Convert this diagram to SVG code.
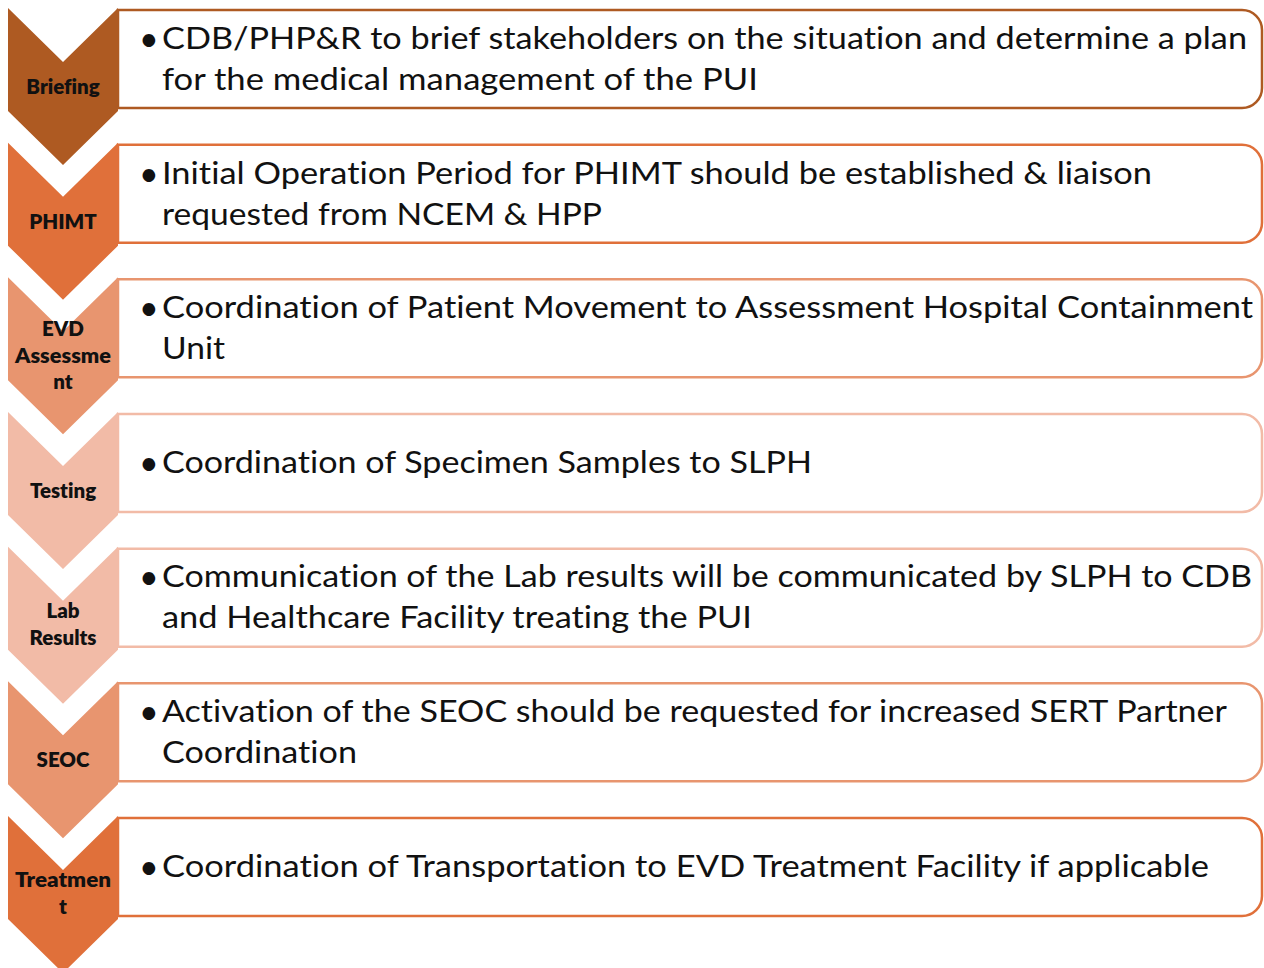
<svg xmlns="http://www.w3.org/2000/svg" width="1264" height="968" viewBox="0 0 1264 968">
  <style>
    .lbl { font-family: Lato, "Open Sans", "Liberation Sans", sans-serif; font-weight: 800; font-size: 20.5px; fill: #111; text-anchor: middle; font-variant-ligatures: none; }
    .txt { font-family: Lato, "Open Sans", "Liberation Sans", sans-serif; font-size: 31.5px; fill: #111; font-variant-ligatures: none; }
    .dot { font-family: Lato, "Open Sans", sans-serif; font-size: 34px; fill: #111; }
    .box { fill: #fff; stroke-width: 2.5; }
    .c1 { fill: #AE5A22; } .s1 { stroke: #AE5A22; }
    .c2 { fill: #E0703A; } .s2 { stroke: #E0703A; }
    .c3 { fill: #E8956F; } .s3 { stroke: #E8956F; }
    .c4 { fill: #F2BBA7; } .s4 { stroke: #F2BBA7; }
  </style>
  <defs>
    <!-- down-pointing chevron, origin at top-left corner -->
    <polygon id="chev" points="8,0 63,54 118,0 118,103 63,157 8,103"/>
    <!-- text panel: square left side, rounded right corners -->
    <path id="panel" d="M118,2 H1242 A20,20 0 0 1 1262,22 V80 A20,20 0 0 1 1242,100 H118 Z"/>
  </defs>

  <!-- Briefing -->
  <g id="step-briefing">
    <use href="#panel" class="box s1" y="8"/>
    <use href="#chev" class="c1" y="8"/>
    <text class="lbl" x="63" y="94">Briefing</text>
    <text class="dot" x="139" y="50.5">•</text>
    <text class="txt" x="162" y="49" textLength="1085" lengthAdjust="spacingAndGlyphs">CDB/PHP&amp;R to brief stakeholders on the situation and determine a plan</text>
    <text class="txt" x="162" y="90" textLength="596" lengthAdjust="spacingAndGlyphs">for the medical management of the PUI</text>
  </g>

  <!-- PHIMT -->
  <g id="step-phimt">
    <use href="#panel" class="box s2" y="142.7"/>
    <use href="#chev" class="c2" y="142.7"/>
    <text class="lbl" x="63" y="228.5">PHIMT</text>
    <text class="dot" x="139" y="185.5">•</text>
    <text class="txt" x="162" y="184" textLength="990" lengthAdjust="spacingAndGlyphs">Initial Operation Period for PHIMT should be established &amp; liaison</text>
    <text class="txt" x="162" y="225" textLength="440" lengthAdjust="spacingAndGlyphs">requested from NCEM &amp; HPP</text>
  </g>

  <!-- EVD Assessment -->
  <g id="step-evd-assessment">
    <use href="#panel" class="box s3" y="277.3"/>
    <use href="#chev" class="c3" y="277.3"/>
    <text class="lbl" x="63" y="336">EVD</text>
    <text class="lbl" x="63" y="363" textLength="96" lengthAdjust="spacingAndGlyphs">Assessme</text>
    <text class="lbl" x="63" y="389">nt</text>
    <text class="dot" x="139" y="319.5">•</text>
    <text class="txt" x="162" y="318" textLength="1091" lengthAdjust="spacingAndGlyphs">Coordination of Patient Movement to Assessment Hospital Containment</text>
    <text class="txt" x="162" y="359" textLength="63" lengthAdjust="spacingAndGlyphs">Unit</text>
  </g>

  <!-- Testing -->
  <g id="step-testing">
    <use href="#panel" class="box s4" y="412"/>
    <use href="#chev" class="c4" y="412"/>
    <text class="lbl" x="63" y="497.5">Testing</text>
    <text class="dot" x="139" y="474.5">•</text>
    <text class="txt" x="162" y="473" textLength="650" lengthAdjust="spacingAndGlyphs">Coordination of Specimen Samples to SLPH</text>
  </g>

  <!-- Lab Results -->
  <g id="step-lab-results">
    <use href="#panel" class="box s4" y="546.7"/>
    <use href="#chev" class="c4" y="546.7"/>
    <text class="lbl" x="63" y="618">Lab</text>
    <text class="lbl" x="63" y="645">Results</text>
    <text class="dot" x="139" y="588.5">•</text>
    <text class="txt" x="162" y="587" textLength="1090" lengthAdjust="spacingAndGlyphs">Communication of the Lab results will be communicated by SLPH to CDB</text>
    <text class="txt" x="162" y="628" textLength="590" lengthAdjust="spacingAndGlyphs">and Healthcare Facility treating the PUI</text>
  </g>

  <!-- SEOC -->
  <g id="step-seoc">
    <use href="#panel" class="box s3" y="681.3"/>
    <use href="#chev" class="c3" y="681.3"/>
    <text class="lbl" x="63" y="766.5">SEOC</text>
    <text class="dot" x="139" y="723.5">•</text>
    <text class="txt" x="162" y="722" textLength="1065" lengthAdjust="spacingAndGlyphs">Activation of the SEOC should be requested for increased SERT Partner</text>
    <text class="txt" x="162" y="763" textLength="195" lengthAdjust="spacingAndGlyphs">Coordination</text>
  </g>

  <!-- Treatment -->
  <g id="step-treatment">
    <use href="#panel" class="box s2" y="816"/>
    <use href="#chev" class="c2" y="816"/>
    <text class="lbl" x="63" y="887" textLength="96" lengthAdjust="spacingAndGlyphs">Treatmen</text>
    <text class="lbl" x="63" y="914">t</text>
    <text class="dot" x="139" y="878.5">•</text>
    <text class="txt" x="162" y="877" textLength="1047" lengthAdjust="spacingAndGlyphs">Coordination of Transportation to EVD Treatment Facility if applicable</text>
  </g>

  <!-- the steps are joined by the chevrons themselves; no separate connectors -->
  <g id="connectors"/>
</svg>
